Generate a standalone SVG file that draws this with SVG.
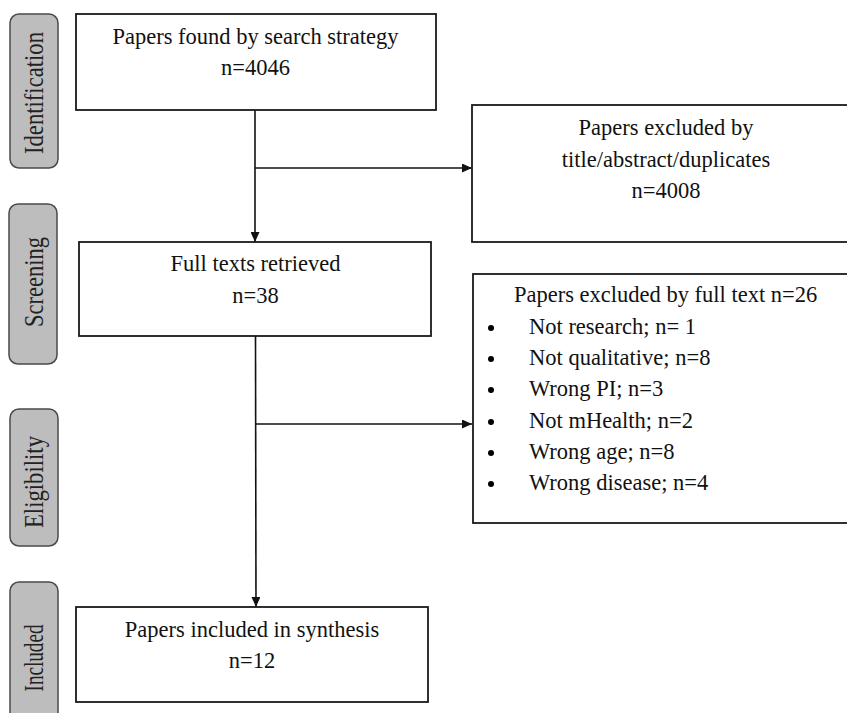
<svg xmlns="http://www.w3.org/2000/svg" width="847" height="713" viewBox="0 0 847 713">
<style>
.box{fill:#fff;stroke:#1a1a1a;stroke-width:1.8}
.phase{fill:#bdbdbd;stroke:#4a4a4a;stroke-width:1.5}
.t{font-family:"Liberation Serif","Times New Roman",serif;font-size:22.5px;fill:#111}
.c{text-anchor:middle}
.pl{font-family:"Liberation Serif","Times New Roman",serif;font-size:28px;fill:#222;text-anchor:middle}
.ln{stroke:#111;stroke-width:1.6;fill:none}
</style>
<defs>
<marker id="ah" viewBox="0 0 10 10" refX="10" refY="5" markerWidth="10" markerHeight="9" markerUnits="userSpaceOnUse" orient="auto" preserveAspectRatio="none">
<path d="M0,0 L10,5 L0,10 z" fill="#111"/>
</marker>
</defs>
<rect width="847" height="713" fill="#fff"/>
<g id="phase-identification">
<rect class="phase" x="10" y="14" width="48" height="154" rx="9"/>
<text class="pl" transform="translate(43,93) rotate(-90)" textLength="122" lengthAdjust="spacingAndGlyphs">Identification</text>
</g>
<g id="phase-screening">
<rect class="phase" x="9" y="204" width="48" height="160" rx="9"/>
<text class="pl" transform="translate(43,282) rotate(-90)" textLength="90" lengthAdjust="spacingAndGlyphs">Screening</text>
</g>
<g id="phase-eligibility">
<rect class="phase" x="10" y="409" width="48" height="137" rx="9"/>
<text class="pl" transform="translate(43,482) rotate(-90)" textLength="92" lengthAdjust="spacingAndGlyphs">Eligibility</text>
</g>
<g id="phase-included">
<rect class="phase" x="10" y="582" width="48" height="150" rx="9"/>
<text class="pl" transform="translate(43,658) rotate(-90)" textLength="67" lengthAdjust="spacingAndGlyphs">Included</text>
</g>
<g id="connectors">
<line class="ln" x1="255" y1="110" x2="255" y2="242" marker-end="url(#ah)"/>
<line class="ln" x1="255" y1="168" x2="472" y2="168" marker-end="url(#ah)"/>
<line class="ln" x1="255.5" y1="336" x2="256" y2="607" marker-end="url(#ah)"/>
<line class="ln" x1="256" y1="424" x2="472" y2="424" marker-end="url(#ah)"/>
</g>
<g id="node-found">
<rect class="box" x="76" y="14" width="360" height="96"/>
<text class="t c" x="255.5" y="44">Papers found by search strategy</text>
<text class="t c" x="255.5" y="75">n=4046</text>
</g>
<g id="node-excluded-title">
<rect class="box" x="472" y="105" width="380" height="137"/>
<text class="t c" x="666" y="135">Papers excluded by</text>
<text class="t c" x="666" y="167">title/abstract/duplicates</text>
<text class="t c" x="666" y="198">n=4008</text>
</g>
<g id="node-fulltext">
<rect class="box" x="79" y="242" width="352" height="94"/>
<text class="t c" x="255.5" y="271">Full texts retrieved</text>
<text class="t c" x="255.5" y="303">n=38</text>
</g>
<g id="node-excluded-full">
<rect class="box" x="473" y="274" width="380" height="249"/>
<text class="t" x="514" y="302">Papers excluded by full text n=26</text>
<circle cx="491" cy="328" r="3"/>
<text class="t" x="529" y="334">Not research; n= 1</text>
<circle cx="491" cy="359" r="3"/>
<text class="t" x="529" y="365">Not qualitative; n=8</text>
<circle cx="491" cy="390" r="3"/>
<text class="t" x="529" y="396">Wrong PI; n=3</text>
<circle cx="491" cy="422" r="3"/>
<text class="t" x="529" y="428">Not mHealth; n=2</text>
<circle cx="491" cy="453" r="3"/>
<text class="t" x="529" y="459">Wrong age; n=8</text>
<circle cx="491" cy="484" r="3"/>
<text class="t" x="529" y="490">Wrong disease; n=4</text>
</g>
<g id="node-included">
<rect class="box" x="76" y="607" width="352" height="95"/>
<text class="t c" x="252" y="637">Papers included in synthesis</text>
<text class="t c" x="252" y="668">n=12</text>
</g>
</svg>
